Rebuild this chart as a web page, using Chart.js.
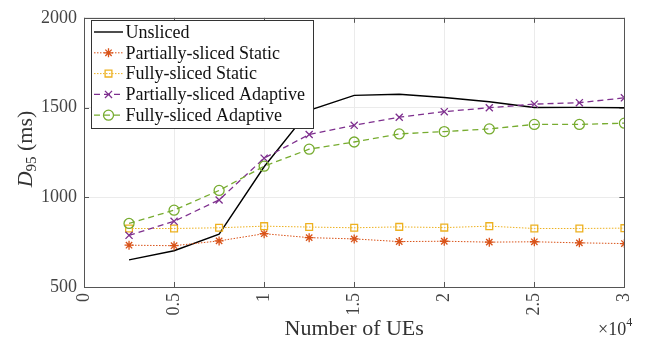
<!DOCTYPE html>
<html><head><meta charset="utf-8">
<script src="https://cdn.jsdelivr.net/npm/chart.js@4.4.1/dist/chart.umd.min.js"></script>
<style>html,body{margin:0;padding:0;background:#fff}#wrap{width:652px;height:343px}</style>
</head><body><div id="wrap"><canvas id="c" width="652" height="343"></canvas></div>
<script>
const ues = [2500,5000,7500,10000,12500,15000,17500,20000,22500,25000,27500,30000];
const unsliced = [651,702,794,1170,1485,1568,1574,1556,1532,1500,1501,1499];
const partialStatic = [733,730,757,797,775,768,753,755,750,752,746,742];
const fullStatic = [826,826,830,839,834,830,835,831,839,826,826,828];
const partialAdaptive = [788,866,985,1218,1350,1401,1446,1477,1499,1519,1527,1554];
const fullAdaptive = [854,928,1038,1173,1268,1308,1353,1366,1381,1406,1406,1413];
const xTicks = [0,5000,10000,15000,20000,25000,30000];
const yTicks = [500,1000,1500,2000];
const seriesNames = ['Unsliced','Partially-sliced Static','Fully-sliced Static','Partially-sliced Adaptive','Fully-sliced Adaptive'];

const FONT = "'Liberation Serif', serif";
const pts = v => ues.map((u,i)=>({x:u,y:v[i]}));

const styles = [
  {color:'#000000', dash:[], marker:false, style:'circle', r:0, width:1.4},
  {color:'#D95319', dash:[1.5,1.5], marker:true, style:'star', r:4.5, width:1},
  {color:'#EDB120', dash:[1.5,1.5], marker:true, style:'rect', r:4.8, width:1},
  {color:'#7E2F8E', dash:[6,4], marker:true, style:'crossRot', r:5, width:1.3},
  {color:'#77AC30', dash:[6,4], marker:true, style:'circle', r:5, width:1.3},
];
const dataArr = [unsliced, partialStatic, fullStatic, partialAdaptive, fullAdaptive];

const datasets = dataArr.map((d,i)=>({
  label: seriesNames[i],
  data: pts(d),
  borderColor: styles[i].color,
  backgroundColor: 'transparent',
  borderWidth: styles[i].width,
  borderDash: styles[i].dash,
  pointStyle: styles[i].style,
  pointRadius: styles[i].r,
  pointBorderColor: styles[i].color,
  pointBackgroundColor: 'transparent',
  pointBorderWidth: 1.3,
  tension: 0,
  order: 5-i
}));

function drawMarker(ctx, style, x, y, r, color){
  ctx.save(); ctx.strokeStyle=color; ctx.lineWidth=1.3; ctx.setLineDash([]);
  ctx.beginPath();
  if(style==='circle'){ ctx.arc(x,y,r,0,Math.PI*2); }
  else if(style==='rect'){ const s=r*Math.SQRT1_2; ctx.rect(x-s,y-s,2*s,2*s); }
  else if(style==='crossRot'){ const s=r*Math.SQRT1_2; ctx.moveTo(x-s,y-s);ctx.lineTo(x+s,y+s);ctx.moveTo(x-s,y+s);ctx.lineTo(x+s,y-s); }
  else if(style==='star'){ const s=r*Math.SQRT1_2; ctx.moveTo(x-s,y-s);ctx.lineTo(x+s,y+s);ctx.moveTo(x-s,y+s);ctx.lineTo(x+s,y-s); ctx.moveTo(x,y-r);ctx.lineTo(x,y+r);ctx.moveTo(x-r,y);ctx.lineTo(x+r,y);}
  ctx.stroke(); ctx.restore();
}

const decor = {
  id:'decor',
  afterDraw(chart){
    const ctx = chart.ctx, a = chart.chartArea;
    const xs = chart.scales.x, ys = chart.scales.y;
    ctx.save();
    ctx.strokeStyle='#555'; ctx.lineWidth=1; ctx.setLineDash([]);
    ctx.strokeRect(Math.round(a.left)+0.5, Math.round(a.top)+0.5, Math.round(a.right-a.left), Math.round(a.bottom-a.top));
    ctx.beginPath();
    xTicks.forEach(t=>{ const px=Math.round(xs.getPixelForValue(t))+0.5;
      ctx.moveTo(px,a.bottom); ctx.lineTo(px,a.bottom-5); ctx.moveTo(px,a.top); ctx.lineTo(px,a.top+5); });
    yTicks.forEach(t=>{ const py=Math.round(ys.getPixelForValue(t))+0.5;
      ctx.moveTo(a.left,py); ctx.lineTo(a.left+5,py); ctx.moveTo(a.right,py); ctx.lineTo(a.right-5,py); });
    ctx.stroke();
    // legend
    const lx=91, ly=20, lw=222, lh=108;
    ctx.fillStyle='#fff'; ctx.fillRect(lx,ly,lw,lh);
    ctx.strokeStyle='#333'; ctx.lineWidth=1; ctx.strokeRect(lx+0.5,ly+0.5,lw,lh);
    ctx.font = "18px "+FONT; ctx.textBaseline='middle'; ctx.textAlign='left';
    seriesNames.forEach((n,i)=>{
      const yy = 32 + i*20.8;
      const st = styles[i];
      ctx.save(); ctx.strokeStyle=st.color; ctx.lineWidth=st.width; ctx.setLineDash(st.dash);
      ctx.beginPath(); ctx.moveTo(94,yy); ctx.lineTo(123,yy); ctx.stroke(); ctx.restore();
      if(st.marker) drawMarker(ctx, st.style, 108.5, yy, st.r, st.color);
      ctx.fillStyle='#111'; ctx.fillText(n, 125.5, yy+1);
    });
    // y title: D_95 (ms)
    ctx.save(); ctx.translate(32,149); ctx.rotate(-Math.PI/2);
    ctx.fillStyle='#333'; ctx.textBaseline='alphabetic';
    const f1="italic 22px "+FONT, f2="15px "+FONT, f3="22px "+FONT;
    ctx.font=f1; const w1=ctx.measureText('D').width;
    ctx.font=f2; const w2=ctx.measureText('95').width;
    ctx.font=f3; const w3=ctx.measureText(' (ms)').width;
    let x0=-(w1+w2+w3)/2;
    ctx.font=f1; ctx.fillText('D',x0,0); x0+=w1;
    ctx.font=f2; ctx.fillText('95',x0,4); x0+=w2;
    ctx.font=f3; ctx.fillText(' (ms)',x0,0);
    ctx.restore();
    // x title
    ctx.fillStyle='#333'; ctx.textBaseline='alphabetic'; ctx.textAlign='center';
    ctx.font="22px "+FONT; ctx.fillText('Number of UEs', (a.left+a.right)/2, 335);
    ctx.textAlign='left';
    ctx.font="18px "+FONT; ctx.fillText('\u00d710', 598, 335);
    const wx=ctx.measureText('\u00d710').width;
    ctx.font="12px "+FONT; ctx.fillText('4', 598+wx, 326);
    ctx.restore();
  }
};

new Chart(document.getElementById('c'), {
  type:'line',
  data:{datasets},
  options:{
    responsive:false, animation:false,
    layout:{padding:{left:0,right:15,top:13,bottom:0}},
    plugins:{legend:{display:false}, tooltip:{enabled:false}},
    scales:{
      x:{type:'linear', min:0, max:30000,
        afterBuildTicks(s){ s.ticks = xTicks.map(v=>({value:v})); },
        afterFit(s){ s.height=56; },
        ticks:{minRotation:90, maxRotation:90, padding:6, color:'#444', font:{family:FONT,size:18},
          callback:v=>String(v/10000)},
        grid:{color:'#ebebeb', drawTicks:false}, border:{display:false}},
      y:{min:500, max:2000,
        afterBuildTicks(s){ s.ticks = yTicks.map(v=>({value:v})); },
        afterFit(s){ s.width=84; },
        ticks:{padding:7, color:'#444', font:{family:FONT,size:18}, callback:v=>String(v)},
        grid:{color:'#ebebeb', drawTicks:false}, border:{display:false}}
    }
  },
  plugins:[decor]
});
</script></body></html>
